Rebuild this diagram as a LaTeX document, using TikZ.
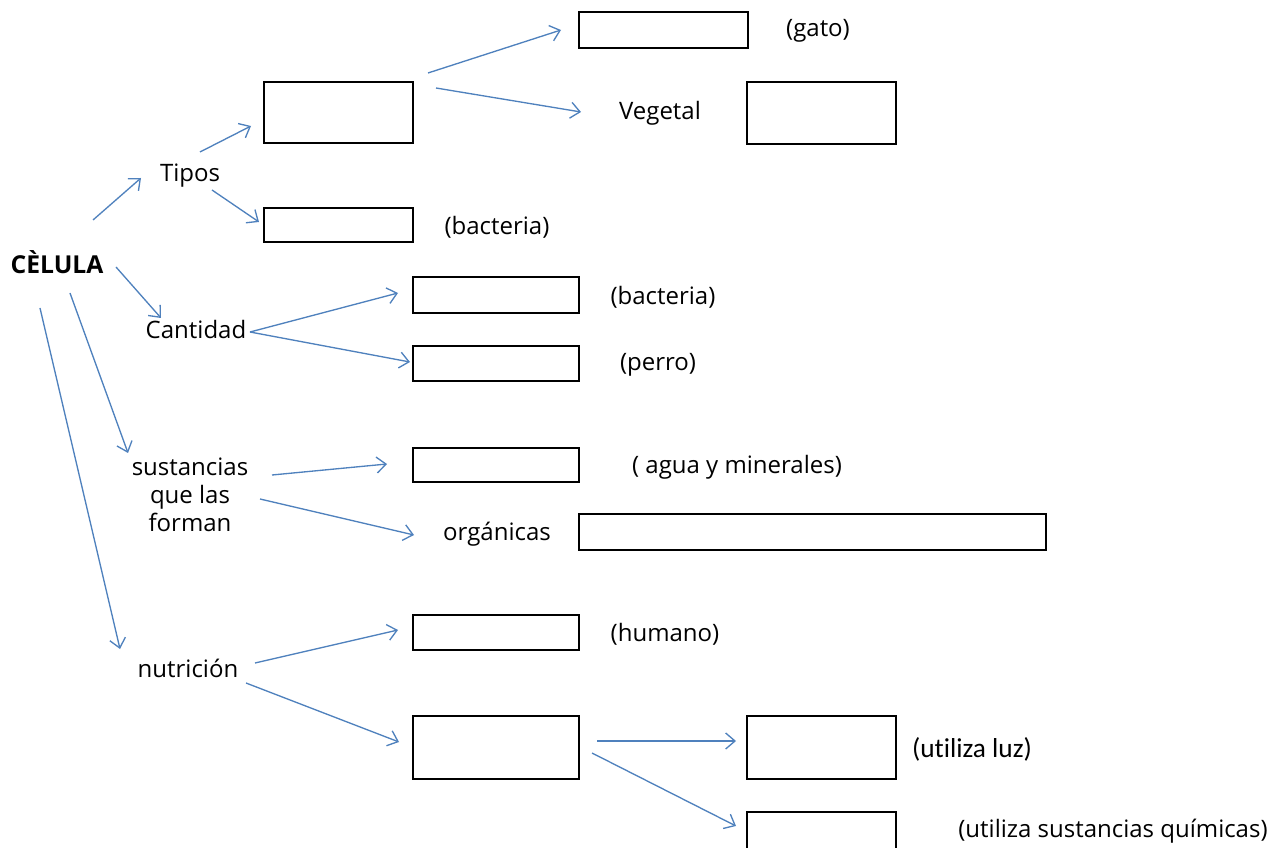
\documentclass[tikz,border=0pt]{standalone}
\usepackage{fontspec}
\setmainfont{Open Sans}
\newfontfamily\calfont[Ligatures=NoCommon]{Carlito}
\usetikzlibrary{arrows.meta}
\definecolor{arrowblue}{RGB}{79,129,189}
\begin{document}
\begin{tikzpicture}[x=0.75pt,y=-0.75pt,
  lbl/.style={inner sep=0pt,outer sep=0pt,font=\fontsize{18pt}{21pt}\selectfont,align=center},
  box/.style={draw=black,line width=1.1pt,inner sep=0pt,outer sep=0pt},
  bx/.style 2 args={box,minimum width=#1*0.75pt,minimum height=#2*0.75pt},
  conn/.style={draw=arrowblue,line width=1pt,-{Straight Barb[length=7pt,width=12pt,line width=1pt]}}]
\useasboundingbox (0,0) rectangle (1275,848);
% labels
\node[lbl,font=\fontsize{18.5pt}{21pt}\selectfont\bfseries] (celula) at (57,262) {CÈLULA};
\node[lbl] (tipos) at (190,176) {Tipos};
\node[lbl] (cantidad) at (196,330) {Cantidad};
\node[lbl] (sust) at (190,495) {sustancias\\que las\\forman};
\node[lbl] (nutri) at (188,668) {nutrición};
\node[lbl] (vegetal) at (660,113) {Vegetal};
\node[lbl] (organicas) at (497,534) {orgánicas};
\node[lbl] (gato) at (818,31) {(gato)};
\node[lbl] (bact1) at (497,227) {(bacteria)};
\node[lbl] (bact2) at (663,297) {(bacteria)};
\node[lbl] (perro) at (658,365) {(perro)};
\node[lbl] (agua) at (737,467) {( agua y minerales)};
\node[lbl] (humano) at (665,634) {(humano)};
\node[lbl,font=\fontsize{20.5pt}{24pt}\calfont] (luz) at (972,749) {(ut\kern0pt iliza luz)};
\node[lbl] (quim) at (1113,831) {(utiliza sustancias químicas)};
% boxes
\node[bx={149}{61}] (b1) at (338.5,112.5) {};
\node[bx={169}{36}] (b2) at (663.5,30) {};
\node[bx={149}{62}] (b3) at (821.5,113) {};
\node[bx={149}{34}] (b4) at (338.5,225) {};
\node[bx={166}{36}] (b5) at (496,295) {};
\node[bx={166}{35}] (b6) at (496,363.5) {};
\node[bx={166}{34}] (b7) at (496,465) {};
\node[bx={467}{36}] (b8) at (812.5,532) {};
\node[bx={166}{35}] (b9) at (496,632.5) {};
\node[bx={166}{63}] (b10) at (496,747.5) {};
\node[bx={149}{63}] (b11) at (821.5,747.5) {};
\node[bx={149}{40}] (b12) at (821.5,832) {};
% arrow end points
\coordinate (c1s) at (93,220);  \coordinate (c1e) at (141,178);
\coordinate (c2s) at (116,267); \coordinate (c2e) at (161,318);
\coordinate (c3s) at (70,293);  \coordinate (c3e) at (128,453);
\coordinate (c4s) at (40,308);  \coordinate (c4e) at (120,649);
\coordinate (t1s) at (200,152); \coordinate (t1e) at (251,126);
\coordinate (t2s) at (212,190); \coordinate (t2e) at (259,222);
\coordinate (u1s) at (428,73);  \coordinate (u1e) at (561,30);
\coordinate (u2s) at (436,88);  \coordinate (u2e) at (581,112);
\coordinate (k0) at (250,332);
\coordinate (k1e) at (398,293); \coordinate (k2e) at (410,362);
\coordinate (s1s) at (272,475); \coordinate (s1e) at (387,464);
\coordinate (s2s) at (260,499); \coordinate (s2e) at (414,535);
\coordinate (n1s) at (255,663); \coordinate (n1e) at (398,630);
\coordinate (n2s) at (246,683); \coordinate (n2e) at (399,742);
\coordinate (m1s) at (597,741); \coordinate (m1e) at (736,741);
\coordinate (m2s) at (592,753); \coordinate (m2e) at (736,826);
% connectors
\draw[conn] (c1s) -- (c1e);
\draw[conn] (c2s) -- (c2e);
\draw[conn] (c3s) -- (c3e);
\draw[conn] (c4s) -- (c4e);
\draw[conn] (t1s) -- (t1e);
\draw[conn] (t2s) -- (t2e);
\draw[conn] (u1s) -- (u1e);
\draw[conn] (u2s) -- (u2e);
\draw[conn] (k0) -- (k1e);
\draw[conn] (k0) -- (k2e);
\draw[conn] (s1s) -- (s1e);
\draw[conn] (s2s) -- (s2e);
\draw[conn] (n1s) -- (n1e);
\draw[conn] (n2s) -- (n2e);
\draw[conn] (m1s) -- (m1e);
\draw[conn] (m2s) -- (m2e);
\end{tikzpicture}
\end{document}
